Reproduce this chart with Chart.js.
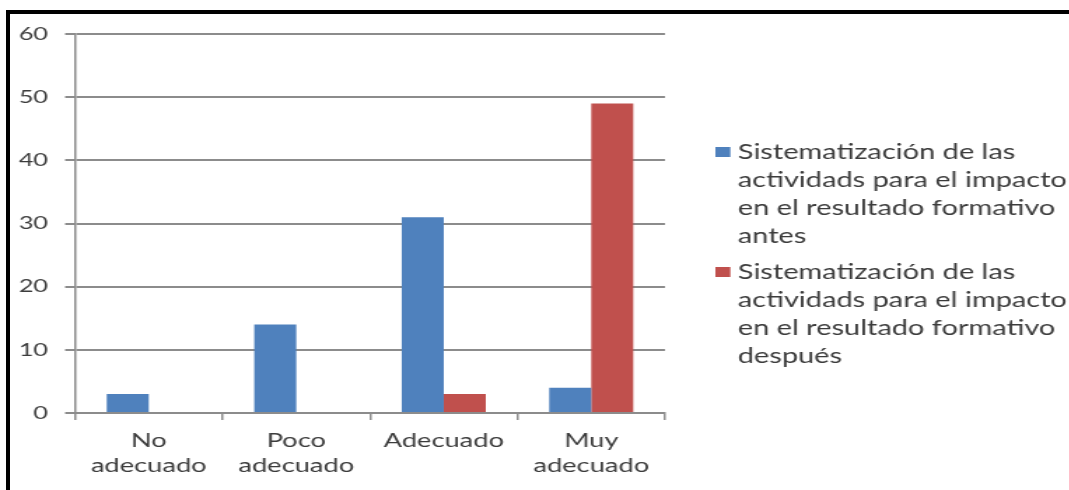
<!DOCTYPE html>
<html>
<head>
<meta charset="utf-8">
<script src="https://cdn.jsdelivr.net/npm/chart.js@4"></script>
<style>
    html, body { margin: 0; padding: 0; background: #fff; }
    body { width: 1069px; height: 490px; overflow: hidden; position: relative; }
    /* el gráfico se dibuja estrecho y se estira en horizontal */
    #wrap { position: absolute; left: 0; top: 0; width: 764px; height: 490px; transform: scaleX(1.4); transform-origin: 0 0; }
    #marco { position: absolute; left: 6px; top: 10px; right: -10px; bottom: -10px; border-top: 4px solid #000; border-left: 4px solid #000; pointer-events: none; }
</style>
</head>
<body>
<div id="wrap"><canvas id="grafico" width="764" height="490"></canvas></div>
<div id="marco"></div>
<script>
const categorias = [['No', 'adecuado'], ['Poco', 'adecuado'], 'Adecuado', ['Muy', 'adecuado']];
const valoresAntes = [3, 14, 31, 4];
const valoresDespues = [0, 0, 3, 49];
const ticksY = [0, 10, 20, 30, 40, 50, 60];

const leyendaAntes = ['Sistematización de las', 'actividads para el impacto', 'en el resultado formativo', 'antes'];
const leyendaDespues = ['Sistematización de las', 'actividads para el impacto', 'en el resultado formativo', 'después'];

const azul = '#4f81bd';
const rojo = '#c0504d';
const gris = '#8c8c8c';
const texto = '#3c3c3c';

// Leyenda a la derecha, con el texto partido en varias líneas
const leyenda = {
    id: 'leyenda',
    afterDraw(chart) {
        const ctx = chart.ctx;
        const inicios = [152, 272];
        ctx.save();
        ctx.font = '20.7px Lato';
        ctx.textBaseline = 'middle';
        ctx.textAlign = 'left';
        chart.data.datasets.forEach((ds, i) => {
            const y = inicios[i];
            ctx.fillStyle = ds.backgroundColor;
            ctx.fillRect(511, y - 5, 10.7, 10);
            ctx.fillStyle = texto;
            ds.lineas.forEach((t, j) => ctx.fillText(t, 527, y + j * 28));
        });
        ctx.restore();
    }
};

const ctx = document.getElementById('grafico').getContext('2d');
new Chart(ctx, {
    type: 'bar',
    data: {
        labels: categorias,
        datasets: [
            { label: leyendaAntes.join(' '), lineas: leyendaAntes, data: valoresAntes, backgroundColor: azul, categoryPercentage: 0.57, barPercentage: 1 },
            { label: leyendaDespues.join(' '), lineas: leyendaDespues, data: valoresDespues, backgroundColor: rojo, categoryPercentage: 0.57, barPercentage: 1 }
        ]
    },
    options: {
        responsive: false,
        animation: false,
        events: [],
        layout: { padding: { top: 34, right: 289, bottom: 0, left: 0 } },
        plugins: {
            legend: { display: false },
            tooltip: { enabled: false }
        },
        scales: {
            x: {
                afterFit: (s) => { s.height = 77; },
                grid: { drawOnChartArea: false, drawTicks: true, tickLength: 7, color: gris, lineWidth: 1.5 },
                border: { color: gris, width: 2 },
                ticks: { color: texto, padding: 8, font: { family: 'Lato', size: 19.5, lineHeight: 1.28 } }
            },
            y: {
                min: 0,
                max: 60,
                afterFit: (s) => { s.width = 53.6; },
                afterBuildTicks: (s) => { s.ticks = ticksY.map(v => ({ value: v })); },
                grid: { color: gris, lineWidth: 2, tickLength: 7.1 },
                border: { color: gris, width: 1.5 },
                ticks: { color: texto, padding: 12.2, font: { family: 'Lato', size: 18 } }
            }
        }
    },
    plugins: [leyenda]
});
</script>
</body>
</html>
